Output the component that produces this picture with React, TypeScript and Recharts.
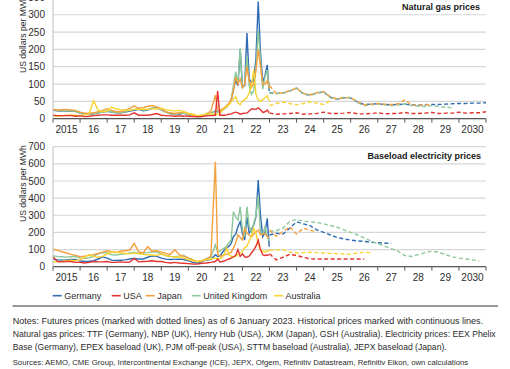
import React from "react";
import { CartesianGrid, Line, LineChart, XAxis, YAxis } from "recharts";

// x axis: one tick per year boundary, label sits in the middle of each year
const YEAR_TICKS = [2015, 2016, 2017, 2018, 2019, 2020, 2021, 2022, 2023, 2024, 2025, 2026, 2027, 2028, 2029, 2030, 2031];
const YEAR_LABELS = ["2015", "16", "17", "18", "19", "20", "21", "22", "23", "24", "25", "26", "27", "28", "29", "2030"];

const GAS_TICKS = [0, 50, 100, 150, 200, 250, 300, 350];
const POWER_TICKS = [0, 100, 200, 300, 400, 500, 600, 700];

// historical sampling: every 2 months 2015-2020, monthly 2021-2022, last day of 2022
const HIST_T = [
  ...Array.from({ length: 36 }, (_, i) => 2015 + i / 6),
  ...Array.from({ length: 24 }, (_, i) => 2021 + i / 12),
  2022.99,
];
// futures: quarterly from January 2023
const FUT_T = Array.from({ length: 33 }, (_, i) => 2023 + i / 4);

// ---- natural gas, USD/MWh ----
const gasGermany = [
  24, 23, 22, 21, 22, 21, 16, 13, 13, 14, 17, 19, 21, 19, 17, 17, 19, 22, 24, 27, 23, 25, 30, 32, 26, 19, 15, 12, 13, 16, 12, 9, 6, 7, 11, 16,
  22, 20, 22, 25, 29, 34, 42, 50, 85, 110, 95, 200, 92, 95, 247, 115, 105, 110, 175, 338, 190, 105, 125, 155, 80,
];
const gasUSA = [
  10, 9, 9, 9, 9, 7, 8, 6, 7, 9, 10, 11, 11, 10, 10, 10, 10, 11, 17, 10, 10, 10, 12, 15, 10, 9, 8, 7, 8, 8, 7, 6, 6, 6, 8, 9,
  10, 80, 10, 10, 10, 11, 13, 14, 17, 19, 17, 13, 15, 16, 16, 22, 28, 28, 27, 31, 26, 18, 20, 25, 17,
];
const gasJapan = [
  27, 25, 26, 27, 25, 24, 19, 16, 16, 17, 20, 24, 29, 24, 20, 20, 24, 30, 37, 30, 32, 36, 38, 34, 28, 20, 17, 15, 17, 20, 15, 10, 7, 8, 14, 22,
  68, 25, 22, 28, 32, 38, 45, 55, 80, 120, 100, 115, 90, 100, 150, 110, 90, 100, 140, 200, 150, 100, 100, 110, 90,
];
const gasUK = [
  25, 24, 22, 22, 23, 21, 16, 13, 13, 15, 17, 19, 23, 20, 17, 17, 20, 24, 26, 30, 24, 26, 31, 34, 28, 20, 14, 12, 14, 16, 12, 9, 5, 6, 11, 16,
  22, 19, 21, 24, 28, 33, 42, 55, 95, 136, 100, 203, 90, 100, 180, 95, 70, 80, 150, 256, 170, 85, 120, 140, 85,
];
const gasAustralia = [
  8, 7, 8, 10, 11, 10, 9, 11, 14, 52, 24, 20, 22, 33, 28, 26, 25, 24, 27, 27, 28, 27, 29, 28, 30, 26, 24, 22, 24, 20, 15, 13, 9, 11, 13, 15,
  12, 12, 15, 22, 30, 35, 40, 48, 55, 64, 45, 40, 50, 55, 60, 75, 95, 141, 70, 55, 50, 55, 60, 66, 50,
];
const gasFutGermany = [75, 73, 74, 80, 88, 72, 68, 74, 77, 62, 56, 60, 60, 48, 41, 42, 43, 41, 40, 41, 42, 40, 39, 40, 41, 41, 42, 43, 44, 44, 45, 45, 46];
const gasFutUSA = [16, 13, 14, 15, 17, 13, 14, 15, 19, 15, 15, 16, 18, 14, 14, 15, 17, 14, 15, 15, 18, 15, 15, 16, 18, 15, 16, 16, 19, 16, 17, 17, 20];
const gasFutJapan = [95, 73, 75, 81, 88, 73, 69, 75, 78, 63, 57, 61, 60, 49, 40, 42, 44, 42, 41, 43, 54, 40, 38, 41, 40];
const gasFutUK = [74, 72, 74, 80, 89, 71, 67, 75, 78, 60, 56, 62, 61, 47, 37, 40, 42, 40, 38, 40, 43, 38, 36, 35, 38, 35, 33, 32];
const gasFutAustralia = [38, 44, 48, 44, 40, 44, 49, 45, 41, 52];

// ---- baseload electricity, USD/MWh ----
const powerGermany = [
  44, 40, 38, 40, 42, 42, 33, 30, 32, 35, 45, 58, 50, 38, 36, 38, 40, 45, 48, 45, 45, 55, 63, 60, 50, 44, 42, 43, 44, 42, 35, 25, 20, 30, 40, 42,
  70, 60, 62, 80, 97, 110, 120, 136, 175, 190, 233, 262, 195, 156, 291, 195, 220, 243, 292, 506, 300, 175, 200, 282, 117,
];
const powerUSA = [
  58, 30, 28, 30, 30, 25, 25, 22, 25, 30, 28, 28, 30, 25, 25, 28, 25, 27, 48, 28, 30, 32, 35, 30, 30, 25, 22, 25, 22, 20, 18, 16, 15, 20, 22, 25,
  30, 45, 28, 30, 33, 40, 45, 50, 58, 66, 100, 60, 75, 58, 55, 62, 80, 97, 120, 155, 100, 70, 65, 68, 68,
];
const powerJapan = [
  103, 95, 87, 80, 72, 66, 58, 62, 66, 70, 78, 85, 93, 87, 82, 90, 93, 96, 136, 87, 80, 117, 90, 93, 85, 78, 72, 99, 70, 60, 51, 40, 30, 35, 45, 62,
  612, 75, 60, 65, 70, 72, 78, 85, 110, 136, 185, 170, 156, 224, 195, 185, 175, 190, 204, 214, 185, 190, 195, 175, 170,
];
const powerUK = [
  63, 60, 58, 56, 58, 60, 50, 48, 52, 60, 75, 83, 80, 70, 68, 72, 75, 80, 85, 77, 80, 82, 87, 85, 75, 65, 60, 58, 62, 65, 50, 38, 28, 35, 45, 55,
  127, 86, 90, 100, 110, 120, 140, 156, 321, 290, 272, 350, 214, 175, 350, 233, 200, 253, 300, 418, 195, 190, 233, 175, 150,
];
const powerAustralia = [
  29, 30, 32, 35, 38, 35, 40, 55, 70, 60, 55, 60, 75, 87, 85, 80, 78, 75, 80, 75, 72, 70, 68, 65, 75, 65, 60, 55, 58, 50, 40, 35, 30, 35, 40, 45,
  50, 45, 48, 55, 75, 110, 70, 60, 55, 60, 70, 80, 90, 110, 120, 150, 175, 224, 195, 130, 100, 90, 85, 95, 90,
];
const powerFutGermany = [185, 195, 190, 225, 262, 250, 240, 215, 200, 185, 170, 162, 155, 150, 148, 142, 140, 137, 136];
const powerFutUSA = [75, 40, 55, 72, 65, 55, 46, 45, 45, 45, 45, 45, 45, 45, 45];
const powerFutJapan = [214, 178, 205, 233, 190, 225, 212, 205];
const powerFutUK = [205, 210, 225, 265, 276, 265, 262, 258, 250, 240, 230, 215, 200, 185, 168, 150, 135, 120, 105, 90, 65, 60, 70, 82, 90, 85, 70, 58, 50, 45, 40, 33];
const powerFutAustralia = [95, 98, 100, 85, 80, 82, 84, 82, 80, 78, 76, 74, 72, 80, 84, 82];

const SERIES = [
  { key: "de", name: "Germany", color: "#2f6cb4" },
  { key: "us", name: "USA", color: "#e2342f" },
  { key: "jp", name: "Japan", color: "#f4a03d" },
  { key: "uk", name: "United Kingdom", color: "#8ec79a" },
  { key: "au", name: "Australia", color: "#f8d431" },
];
const COLOR: Record<string, string> = Object.fromEntries(SERIES.map((s) => [s.key, s.color]));
const DRAW_ORDER = ["de", "uk", "jp", "au", "us"];

type Block = Record<string, number[]>;

function buildRows(hist: Block, fut: Block) {
  const rows: Record<string, number | null>[] = HIST_T.map((t, i) => {
    const r: Record<string, number | null> = { t };
    for (const k in hist) r[k] = hist[k][i];
    return r;
  });
  FUT_T.forEach((t, i) => {
    const r: Record<string, number | null> = { t };
    for (const k in fut) r[k + "F"] = fut[k][i] ?? null;
    rows.push(r);
  });
  return rows;
}

const gasRows = buildRows(
  { de: gasGermany, us: gasUSA, jp: gasJapan, uk: gasUK, au: gasAustralia },
  { de: gasFutGermany, us: gasFutUSA, jp: gasFutJapan, uk: gasFutUK, au: gasFutAustralia }
);
const powerRows = buildRows(
  { de: powerGermany, us: powerUSA, jp: powerJapan, uk: powerUK, au: powerAustralia },
  { de: powerFutGermany, us: powerFutUSA, jp: powerFutJapan, uk: powerFutUK, au: powerFutAustralia }
);

const W = 510;
const PLOT_LEFT = 53;
const PLOT_RIGHT = 24;
const HALF_YEAR = (W - PLOT_LEFT - PLOT_RIGHT) / (YEAR_TICKS.length - 1) / 2;
const FONT = "'Liberation Sans', Arial, sans-serif";
const TEXT = "#2b2b2b";

function YearTick(props: any) {
  const { x, y, payload } = props;
  const idx = YEAR_TICKS.indexOf(payload.value);
  if (idx < 0 || idx >= YEAR_LABELS.length) return <g />;
  return (
    <text x={x + HALF_YEAR} y={y} dy="0.71em" textAnchor="middle" fontSize={10} fill={TEXT} fontFamily={FONT}>
      {YEAR_LABELS[idx]}
    </text>
  );
}

function Panel({ rows, yTicks, height, top, bottom }: { rows: any[]; yTicks: number[]; height: number; top: number; bottom: number }) {
  return (
    <LineChart width={W} height={height} data={rows} margin={{ top, right: PLOT_RIGHT, bottom, left: PLOT_LEFT - 40 }}>
      <CartesianGrid vertical={false} stroke="#d6d6d6" strokeWidth={1.2} />
      <XAxis
        type="number"
        dataKey="t"
        domain={[2015, 2031]}
        ticks={YEAR_TICKS}
        interval={0}
        height={20}
        tickSize={4}
        tickMargin={3}
        axisLine={{ stroke: "#595959", strokeWidth: 1.2 }}
        tickLine={{ stroke: "#595959" }}
        tick={<YearTick />}
      />
      <YAxis
        type="number"
        domain={[0, yTicks[yTicks.length - 1]]}
        ticks={yTicks}
        interval={0}
        width={40}
        tickSize={0}
        tickMargin={8}
        tickLine={false}
        axisLine={{ stroke: "#bdbdbd" }}
        tick={{ fontSize: 10, fill: TEXT, fontFamily: FONT }}
      />
      {DRAW_ORDER.map((k) => (
        <Line key={k} dataKey={k} stroke={COLOR[k]} strokeWidth={1.4} dot={false} isAnimationActive={false} connectNulls={false} />
      ))}
      {DRAW_ORDER.map((k) => (
        <Line
          key={k + "F"}
          dataKey={k + "F"}
          stroke={COLOR[k]}
          strokeWidth={1.4}
          strokeDasharray="4 2.5"
          dot={false}
          isAnimationActive={false}
          connectNulls={false}
        />
      ))}
    </LineChart>
  );
}

const LEGEND_X = [52.7, 111.7, 145.7, 191.7, 274];

const NOTES = [
  { text: "Notes: Futures prices (marked with dotted lines) as of 6 January 2023. Historical prices marked with continuous lines.", y: 324, width: 470.5 },
  { text: "Natural gas prices: TTF (Germany), NBP (UK), Henry Hub (USA), JKM (Japan), GSH (Australia). Electricity prices: EEX Phelix", y: 337, width: 483 },
  { text: "Base (Germany), EPEX baseload (UK), PJM off-peak (USA), STTM baseload (Australia), JEPX baseload (Japan).", y: 349.5, width: 434 },
];
const SOURCES = "Sources: AEMO, CME Group, Intercontinental Exchange (ICE), JEPX, Ofgem, Refinitiv Datastream, Refinitiv Eikon, own calculations";

export default function App() {
  return (
    <div style={{ position: "absolute", left: 0, top: 0, width: W, height: 369, overflow: "hidden", background: "#fff", fontFamily: FONT }}>
      <div style={{ position: "absolute", left: 0, top: -10 }}>
        <Panel rows={gasRows} yTicks={GAS_TICKS} height={150} top={7.4} bottom={1.3} />
      </div>
      <div style={{ position: "absolute", left: 0, top: 130 }}>
        <Panel rows={powerRows} yTicks={POWER_TICKS} height={160} top={16.7} bottom={3.3} />
      </div>
      <svg width={W} height={369} style={{ position: "absolute", left: 0, top: 0, pointerEvents: "none" }} fontFamily={FONT}>
        <text x={480} y={10} textAnchor="end" fontSize={9} fontWeight="bold" fill="#1a1a1a">
          Natural gas prices
        </text>
        <text x={481} y={158.5} textAnchor="end" fontSize={9} fontWeight="bold" fill="#1a1a1a">
          Baseload electricity prices
        </text>
        <text transform="translate(25.5,73) rotate(-90)" fontSize={8.6} fill={TEXT}>
          US dollars per MWh
        </text>
        <text transform="translate(25.5,222) rotate(-90)" fontSize={8.6} fill={TEXT}>
          US dollars per MWh
        </text>
        {SERIES.map((s, i) => (
          <g key={s.key}>
            <line x1={LEGEND_X[i]} x2={LEGEND_X[i] + 9} y1={295.7} y2={295.7} stroke={s.color} strokeWidth={1.6} />
            <text x={LEGEND_X[i] + 11.5} y={298.9} fontSize={9} fill={TEXT}>
              {s.name}
            </text>
          </g>
        ))}
        <line x1={12.5} x2={498} y1={306} y2={306} stroke="#333" strokeWidth={1.2} />
        {NOTES.map((n) => (
          <text key={n.y} x={12.7} y={n.y} fontSize={9} fill={TEXT} textLength={n.width} lengthAdjust="spacingAndGlyphs">
            {n.text}
          </text>
        ))}
        <text x={12.7} y={365} fontSize={7.4} fill={TEXT} textLength={455.5} lengthAdjust="spacingAndGlyphs">
          {SOURCES}
        </text>
      </svg>
    </div>
  );
}
